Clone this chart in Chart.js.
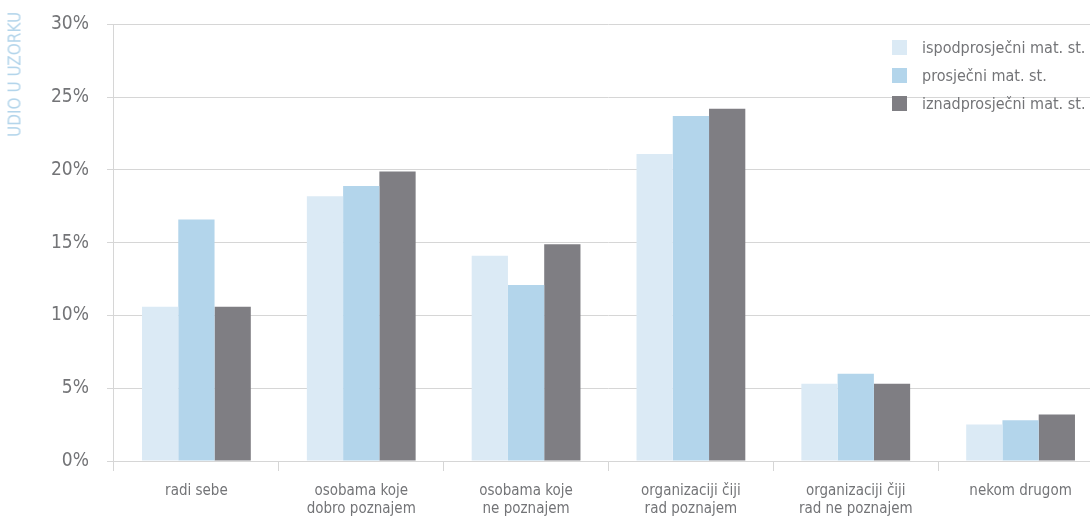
<!DOCTYPE html>
<html>
<head>
<meta charset="utf-8">
<script src="https://cdn.jsdelivr.net/npm/chart.js@4"></script>
<style>
  html, body { margin: 0; padding: 0; background: #fff; overflow: hidden; }
  #wrap { position: relative; width: 1090px; height: 519px; overflow: hidden; }
  #box { position: absolute; left: 0; top: -5px; width: 1103px; height: 524px; }
  #legend { position: absolute; left: 892px; top: 33px; font-family: "Liberation Sans Narrow", "DejaVu Sans Condensed", sans-serif; font-size: 16px; color: #737477; }
  #legend div { height: 28px; display: flex; align-items: center; }
  #legend span.sw { width: 15px; height: 15px; margin-right: 15px; display: inline-block; }
  #ytitle { position: absolute; left: 15px; top: 137px; transform-origin: 0 0; transform: rotate(-90deg) translateY(-50%);
            font-family: "Liberation Sans Narrow", "DejaVu Sans Condensed", sans-serif; font-size: 17px; color: #b3d5eb; white-space: nowrap; line-height: 1; }
</style>
</head>
<body>
<div id="wrap">
  <div id="box"><canvas id="chart"></canvas></div>
  <div id="legend"></div>
  <div id="ytitle">UDIO U UZORKU</div>
</div>
<script>
const categories = [
  ["radi sebe"],
  ["osobama koje", "dobro poznajem"],
  ["osobama koje", "ne poznajem"],
  ["organizaciji čiji", "rad poznajem"],
  ["organizaciji čiji", "rad ne poznajem"],
  ["nekom drugom"]
];
const seriesNames = ["ispodprosječni mat. st.", "prosječni mat. st.", "iznadprosječni mat. st."];
const belowAvg = [10.6, 18.2, 14.1, 21.1, 5.3, 2.5];
const avg = [16.6, 18.9, 12.1, 23.7, 6.0, 2.8];
const aboveAvg = [10.6, 19.9, 14.9, 24.2, 5.3, 3.2];
const colors = ["#dbeaf5", "#b3d5eb", "#7f7e83"];
const yTicks = [0, 5, 10, 15, 20, 25, 30];

const font = "'Liberation Sans Narrow', 'DejaVu Sans Condensed', sans-serif";
const textColor = "#737477";
const gridColor = "#d6d6d6";

const legendEl = document.getElementById("legend");
seriesNames.forEach((name, i) => {
  const row = document.createElement("div");
  row.innerHTML = `<span class="sw" style="background:${colors[i]}"></span>${name}`;
  legendEl.appendChild(row);
});

new Chart(document.getElementById("chart"), {
  type: "bar",
  data: {
    labels: categories,
    datasets: [belowAvg, avg, aboveAvg].map((d, i) => ({
      label: seriesNames[i],
      data: d,
      backgroundColor: colors[i],
      categoryPercentage: 0.66,
      barPercentage: 1.0,
    })),
  },
  options: {
    responsive: true,
    maintainAspectRatio: false,
    animation: false,
    layout: { padding: { top: 10, left: 33, right: 0, bottom: -10 } },
    plugins: {
      legend: { display: false },
      tooltip: { enabled: false },
    },
    scales: {
      x: {
        grid: { offset: true, drawOnChartArea: false, color: gridColor, tickLength: 10 },
        border: { color: gridColor },
        ticks: { color: textColor, font: { family: font, size: 15 }, padding: 11 },
      },
      y: {
        min: 0,
        max: 30,
        afterBuildTicks: (axis) => { axis.ticks = yTicks.map((v) => ({ value: v })); },
        grid: { color: gridColor, tickLength: 7 },
        border: { color: gridColor },
        ticks: { color: textColor, font: { family: font, size: 19 }, padding: 18, callback: (v) => v + "%" },
      },
    },
  },
});
</script>
</body>
</html>
